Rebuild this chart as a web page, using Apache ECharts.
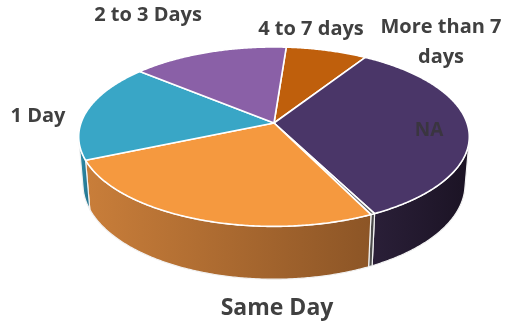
<!DOCTYPE html>
<html>
<head>
<meta charset="utf-8">
<script src="https://cdn.jsdelivr.net/npm/echarts@6/dist/echarts.min.js"></script>
<style>
  html, body { margin: 0; padding: 0; background: #ffffff; }
  #chart { width: 505px; height: 327px; }
</style>
</head>
<body>
<div id="chart"></div>
<script>
// Share of cases by time taken
const categories = ['4 to 7 days', 'More than 7 days', 'NA', 'Same Day', '1 Day', '2 to 3 Days'];
const labelTexts = ['4 to 7 days', 'More than 7\ndays', 'NA', 'Same Day', '1 Day', '2 to 3 Days'];
const values = [7.8, 33.6, 0.3, 25.6, 17.7, 15.0];

// Styling of each slice: top face and outer wall
const topColors = ['#bf5f0c', '#4a3668', '#6b6b6b', '#f5993f', '#39a6c6', '#8a60a7'];
const wallColors = [
  ['#9a4a08', '#7a3a06'],
  ['#2a1f38', '#1b1324'],
  ['#555555', '#444444'],
  ['#c97e3a', '#8c5526'],
  ['#2f8fad', '#23708a'],
  ['#6d4a86', '#553a6a']
];
// Label anchor points (px) and font sizes
const labelLayout = [
  { x: 311, y: 29, size: 20 },
  { x: 441, y: 42, size: 20 },
  { x: 429, y: 131, size: 19 },
  { x: 277, y: 308, size: 23 },
  { x: 38, y: 116, size: 20 },
  { x: 148, y: 15, size: 20 }
];

// Perspective view of the disc
const view = {
  cx: 274, cy: 123,     // projected centre of the top face
  k: 193,               // pixels per radius at the centre plane
  tilt: 27 * Math.PI / 180,
  dist: 5.84,           // camera distance in radii
  thick: 0.28,          // disc thickness in radii
  startAngle: 4.2       // first slice edge, degrees clockwise from the far side
};
const ca = Math.cos(view.tilt), sa = Math.sin(view.tilt);

function proj(X, Y, Z) {
  const depth = Y * ca - Z * sa + view.dist;
  const yc = Y * sa + Z * ca;
  const s = view.k * view.dist / depth;
  return [view.cx + X * s, view.cy - yc * s];
}
function rim(deg, Z) {
  const t = deg * Math.PI / 180;
  return proj(Math.sin(t), Math.cos(t), Z);
}
function wallVisible(deg) {
  const t = deg * Math.PI / 180;
  return Math.cos(t) < -1 / (view.dist * ca);
}

const total = values.reduce((a, b) => a + b, 0);

function renderItem(params, api) {
  const i = params.dataIndex;
  let before = 0;
  for (let j = 0; j < i; j++) before += values[j];
  const v = api.value(0);
  const a0 = view.startAngle + before / total * 360;
  const a1 = a0 + v / total * 360;
  const steps = Math.max(2, Math.ceil((a1 - a0) / 0.5));
  const children = [];

  // outer wall, only the part that faces the viewer
  let run = [];
  const runs = [];
  for (let s = 0; s <= steps; s++) {
    const d = a0 + (a1 - a0) * s / steps;
    if (wallVisible(d)) run.push(d);
    else if (run.length) { runs.push(run); run = []; }
  }
  if (run.length) runs.push(run);
  runs.forEach(r => {
    if (r.length < 2) return;
    const pts = r.map(d => rim(d, 0)).concat(r.slice().reverse().map(d => rim(d, -view.thick)));
    children.push({
      type: 'polygon',
      z2: 1,
      shape: { points: pts },
      style: {
        fill: new echarts.graphic.LinearGradient(0, 0, 1, 0, [
          { offset: 0, color: wallColors[i][0] },
          { offset: 1, color: wallColors[i][1] }
        ]),
        stroke: '#f2f2f2',
        lineWidth: 1.2
      }
    });
  });

  // top face
  const top = [proj(0, 0, 0)];
  for (let s = 0; s <= steps; s++) top.push(rim(a0 + (a1 - a0) * s / steps, 0));
  children.push({
    type: 'polygon',
    z2: 10,
    shape: { points: top },
    style: { fill: topColors[i], stroke: '#ffffff', lineWidth: 1.6, lineJoin: 'round' }
  });

  // label
  const L = labelLayout[i];
  children.push({
    type: 'text',
    z2: 20,
    style: {
      text: labelTexts[i],
      x: L.x, y: L.y,
      align: 'center', verticalAlign: 'middle',
      fill: i === 2 ? '#3a3540' : '#404040',
      fontFamily: '"Open Sans", sans-serif',
      fontWeight: 'bold',
      fontSize: L.size,
      lineHeight: 30
    }
  });
  return { type: 'group', children };
}

const chart = echarts.init(document.getElementById('chart'), null, { renderer: 'canvas' });
chart.setOption({
  animation: false,
  backgroundColor: '#ffffff',
  series: [{
    type: 'custom',
    coordinateSystem: 'none',
    renderItem: renderItem,
    data: values.map((v, i) => ({ name: categories[i], value: [v] }))
  }]
});
</script>
</body>
</html>
